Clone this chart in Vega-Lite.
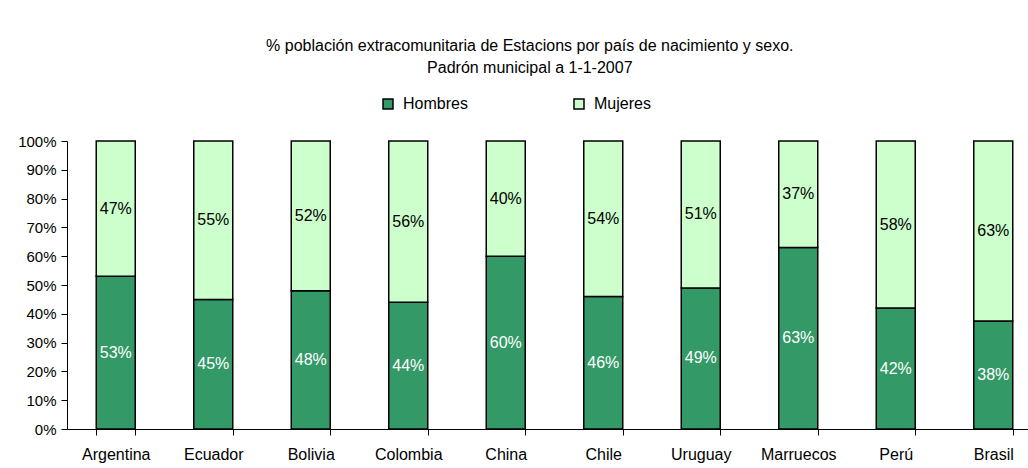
{
  "$schema": "https://vega.github.io/schema/vega-lite/v6.json",
  "width": 975,
  "height": 288,
  "autosize": {"type": "none"},
  "padding": {"left": 67, "top": 141, "right": -14, "bottom": 39},
  "background": "white",
  "title": {
    "text": ["% población extracomunitaria de Estacions por país de nacimiento y sexo.", "Padrón municipal a 1-1-2007"],
    "font": "Liberation Sans",
    "fontSize": 16,
    "fontWeight": "normal",
    "lineHeight": 22,
    "anchor": "middle",
    "frame": "bounds",
    "offset": 20,
    "color": "black"
  },
  "data": {
    "values": [
      {"pais": "Argentina", "sexo": "Hombres", "valor": 0.53},
      {"pais": "Argentina", "sexo": "Mujeres", "valor": 0.47},
      {"pais": "Ecuador", "sexo": "Hombres", "valor": 0.45},
      {"pais": "Ecuador", "sexo": "Mujeres", "valor": 0.55},
      {"pais": "Bolivia", "sexo": "Hombres", "valor": 0.48},
      {"pais": "Bolivia", "sexo": "Mujeres", "valor": 0.52},
      {"pais": "Colombia", "sexo": "Hombres", "valor": 0.44},
      {"pais": "Colombia", "sexo": "Mujeres", "valor": 0.56},
      {"pais": "China", "sexo": "Hombres", "valor": 0.60},
      {"pais": "China", "sexo": "Mujeres", "valor": 0.40},
      {"pais": "Chile", "sexo": "Hombres", "valor": 0.46},
      {"pais": "Chile", "sexo": "Mujeres", "valor": 0.54},
      {"pais": "Uruguay", "sexo": "Hombres", "valor": 0.49},
      {"pais": "Uruguay", "sexo": "Mujeres", "valor": 0.51},
      {"pais": "Marruecos", "sexo": "Hombres", "valor": 0.63},
      {"pais": "Marruecos", "sexo": "Mujeres", "valor": 0.37},
      {"pais": "Perú", "sexo": "Hombres", "valor": 0.42},
      {"pais": "Perú", "sexo": "Mujeres", "valor": 0.58},
      {"pais": "Brasil", "sexo": "Hombres", "valor": 0.375},
      {"pais": "Brasil", "sexo": "Mujeres", "valor": 0.625}
    ]
  },
  "encoding": {
    "x": {
      "field": "pais",
      "type": "nominal",
      "sort": null,
      "scale": {"paddingInner": 0.6, "paddingOuter": 0.3},
      "axis": {
        "title": null,
        "labelAngle": 0,
        "tickBand": "extent",
        "domainColor": "black",
        "tickColor": "black",
        "tickSize": 6,
        "labelFont": "Liberation Sans",
        "labelFontSize": 16,
        "labelColor": "black",
        "labelPadding": 11,
        "grid": false
      }
    },
    "y": {
      "field": "valor",
      "type": "quantitative",
      "stack": "normalize",
      "scale": {"domain": [0, 1]},
      "axis": {
        "title": null,
        "values": [0, 0.1, 0.2, 0.3, 0.4, 0.5, 0.6, 0.7, 0.8, 0.9, 1],
        "format": ".0%",
        "grid": false,
        "domainColor": "black",
        "tickColor": "black",
        "tickSize": 6,
        "labelFont": "Liberation Sans",
        "labelFontSize": 15,
        "labelColor": "black",
        "labelPadding": 5
      }
    },
    "order": {"field": "sexo"}
  },
  "layer": [
    {
      "mark": {"type": "bar", "stroke": "black", "strokeWidth": 1.5},
      "encoding": {
        "color": {
          "field": "sexo",
          "type": "nominal",
          "scale": {"domain": ["Hombres", "Mujeres"], "range": ["#339966", "#CCFFCC"]},
          "legend": {
            "orient": "none",
            "legendX": 313,
            "legendY": -45,
            "direction": "horizontal",
            "title": null,
            "symbolType": "square",
            "symbolSize": 100,
            "symbolStrokeColor": "black",
            "symbolStrokeWidth": 1.5,
            "labelFont": "Liberation Sans",
            "labelFontSize": 16,
            "labelColor": "black",
            "labelOffset": 7,
            "columnPadding": 103
          }
        }
      }
    },
    {
      "mark": {"type": "text", "font": "Liberation Sans", "fontSize": 16, "baseline": "middle"},
      "encoding": {
        "y": {"field": "valor", "type": "quantitative", "stack": "normalize", "bandPosition": 0.5},
        "detail": {"field": "sexo"},
        "text": {"field": "valor", "type": "quantitative", "format": ".0%"},
        "color": {"condition": {"test": "datum.sexo === 'Hombres'", "value": "white"}, "value": "black"}
      }
    }
  ],
  "config": {"view": {"stroke": null}}
}
